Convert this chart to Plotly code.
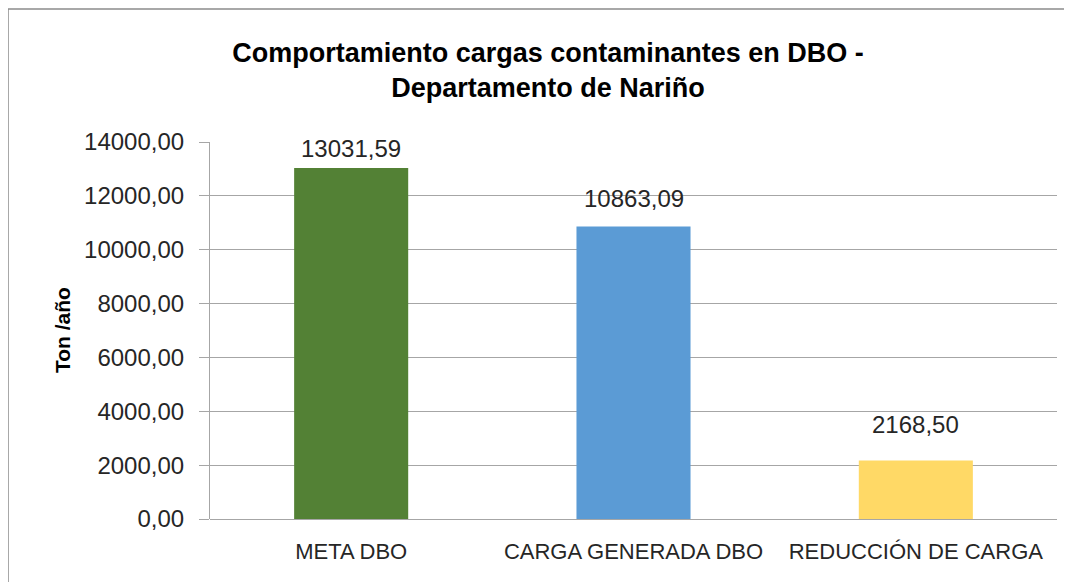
import plotly.graph_objects as go

categories = ["META DBO", "CARGA GENERADA DBO", "REDUCCIÓN DE CARGA"]
values = [13031.59, 10863.09, 2168.50]
colors = ["#538135", "#5B9BD5", "#FFD966"]
y_ticks = [0, 2000, 4000, 6000, 8000, 10000, 12000, 14000]
label_shift = [4, 12, 21]  # pixel offsets of the value labels above the bars

# page body has an 8px margin; work in screen coords and subtract it
OFF = 8
W, H = 1072 - OFF, 582 - OFF
L, T = 210 - OFF, 142 - OFF
R = W - (1057 - OFF)
B = H - (519 - OFF)
pw, ph = W - L - R, H - T - B

fig = go.Figure(go.Bar(
    x=categories, y=values, marker=dict(color=colors, line=dict(width=0)),
    hoverinfo="x+y",
))

for c, v, s in zip(categories, values, label_shift):
    fig.add_annotation(
        x=c, y=v, xref="x", yref="y", text=f"{v:.2f}".replace(".", ","),
        showarrow=False, yanchor="bottom", yshift=s,
        font=dict(size=24, color="#262626", family="Liberation Sans"),
    )

fig.update_layout(
    width=W, height=H,
    margin=dict(l=L, r=R, t=T, b=B),
    paper_bgcolor="white", plot_bgcolor="white",
    separators=",.",
    bargap=0.596,
    showlegend=False,
    font=dict(family="Liberation Sans", color="#262626"),
    title=dict(
        text="Comportamiento cargas contaminantes en DBO -<br>Departamento de Nariño",
        x=(548 - OFF) / W, xanchor="center", xref="container",
        y=1 - (62 - OFF) / H, yanchor="middle", yref="container",
        font=dict(size=27, color="black", family="Liberation Sans", weight="bold"),
    ),
    xaxis=dict(
        showgrid=False, showline=False, ticks="",
        tickfont=dict(size=22, color="#262626"),
        ticklabelstandoff=17,
    ),
    yaxis=dict(
        range=[0, 14000], tickvals=y_ticks, tickformat=".2f",
        showgrid=True, gridcolor="#A6A6A6", gridwidth=1,
        zeroline=True, zerolinecolor="#A6A6A6", zerolinewidth=1,
        showline=True, linecolor="#A6A6A6", linewidth=1,
        ticks="outside", ticklen=10, tickcolor="#A6A6A6",
        tickfont=dict(size=24, color="#262626"),
        ticklabelstandoff=10,
    ),
    shapes=[dict(
        type="rect", xref="paper", yref="paper",
        x0=(8 - 210) / pw, x1=(1068 - 210) / pw,
        y0=-0.3, y1=(519 - 9) / ph,
        line=dict(color="#8C8C8C", width=1.5), fillcolor="rgba(0,0,0,0)",
    )],
)

fig.add_annotation(
    text="<b>Ton /año</b>", textangle=-90,
    x=(62 - 210) / pw, y=(519 - 330) / ph, xref="paper", yref="paper",
    xanchor="center", yanchor="middle", showarrow=False,
    font=dict(size=21, color="black"),
)

fig.write_html("out.html")
